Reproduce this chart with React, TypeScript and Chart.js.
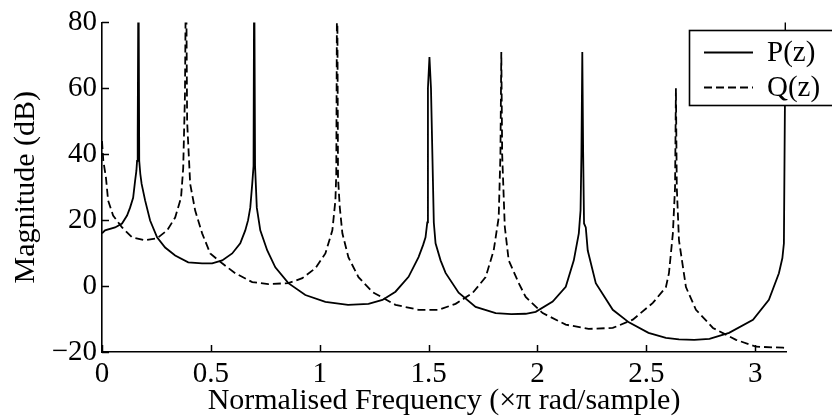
import React, { useEffect, useRef } from "react";
import { Chart, registerables } from "chart.js";

Chart.register(...registerables);

const SERIES_NAMES = ["P(z)", "Q(z)"];
const X_TITLE = "Normalised Frequency (×π rad/sample)";
const Y_TITLE = "Magnitude (dB)";
const X_MIN = 0;
const X_MAX = 3.1416;
const Y_MIN = -20;
const Y_MAX = 80;
const X_TICKS = [0, 0.5, 1, 1.5, 2, 2.5, 3];
const Y_TICKS = [-20, 0, 20, 40, 60, 80];

const P_X = [
  0, 0.014, 0.06, 0.092, 0.115, 0.129, 0.143, 0.152, 0.158, 0.161, 0.164, 0.1675, 0.171, 0.176, 0.182, 0.198,
  0.221, 0.253, 0.29, 0.336, 0.396, 0.46, 0.506, 0.552, 0.598, 0.635, 0.658, 0.671, 0.681, 0.69, 0.696,
  0.699, 0.703, 0.711, 0.727, 0.759, 0.796, 0.856, 0.934, 1.026, 1.13, 1.224, 1.288, 1.348, 1.408,
  1.454, 1.475, 1.486, 1.494, 1.497, 1.504, 1.511, 1.524, 1.532, 1.555, 1.578, 1.638, 1.716, 1.808, 1.88,
  1.946, 1.992, 2.07, 2.13, 2.167, 2.19, 2.198, 2.202, 2.206, 2.21, 2.214, 2.222, 2.231, 2.268,
  2.346, 2.42, 2.51, 2.59, 2.65, 2.72, 2.79, 2.88, 2.99, 3.063, 3.109, 3.125, 3.132, 3.1416,
];
const P_Y = [
  16, 16.9, 17.8, 19, 21.4, 23.8, 26.8, 31.9, 35, 38, 46, 100, 38, 34, 31, 26,
  19.9, 14.8, 11.7, 9.3, 7.2, 6.9, 6.9, 7.8, 9.9, 13, 16.9, 20, 23.8, 31, 36.4,
  100, 36.4, 23.8, 16.9, 10.8, 5.7, 0.9, -2.7, -4.8, -5.7, -5.4, -4.2, -1.7, 2.8,
  8.8, 12.5, 14.8, 19.3, 60, 69.5, 60, 19.3, 13, 7.8, 4, -2, -6.3, -8.2, -8.5,
  -8.4, -7.8, -4.7, -0.2, 7.8, 16, 23, 40, 71, 40, 19, 17.8, 10.8, 0.9,
  -7.2, -11, -14.2, -15.7, -16.2, -16.3, -16, -14.2, -10.2, -4.2, 3.9, 8.5, 13, 100,
];

const Q_X = [
  0, 0.006, 0.018, 0.028, 0.051, 0.092, 0.138, 0.198, 0.253, 0.299, 0.336, 0.363, 0.373, 0.381,
  0.386, 0.391, 0.405, 0.428, 0.46, 0.497, 0.552, 0.612, 0.69, 0.764, 0.856, 0.92, 0.98, 1.026,
  1.058, 1.072, 1.076, 1.08, 1.084, 1.092, 1.104, 1.132, 1.178, 1.242, 1.348, 1.454, 1.546, 1.624,
  1.702, 1.762, 1.799, 1.822, 1.83, 1.834, 1.838, 1.85, 1.868, 1.914, 1.946, 2.024, 2.13, 2.235,
  2.346, 2.438, 2.53, 2.59, 2.604, 2.622, 2.632, 2.636, 2.64, 2.65, 2.682, 2.728, 2.806, 2.912,
  3.004, 3.128, 3.1416,
];
const Q_Y = [
  44, 38, 33, 26, 21.4, 17.8, 14.8, 13.9, 14.5, 16.9, 20.8, 26.8, 35.8, 58,
  100, 50, 31, 22.9, 16, 9.9, 6.9, 3.9, 1.2, 0.6, 0.9, 2.4, 5.4, 9.9,
  16.9, 26, 34, 100, 33, 24, 16, 8.7, 2.7, -1.8, -5.7, -7.2, -7.2, -5.4,
  -2.1, 2.7, 10.8, 20.8, 40, 71, 40, 18, 7.8, 0.9, -3.3, -8.2, -11.7, -13,
  -12.7, -10.2, -5.1, -0.3, 3.9, 16, 30, 60, 30, 13.9, -0.3, -7.2, -12.7, -16.3,
  -18.4, -18.7, -18.8,
];

const FONT_FAMILY = '"Liberation Serif", "Times New Roman", serif';
const DASH = [8, 4];

const insideTicks = {
  id: "insideTicks",
  afterDatasetsDraw(chart: any) {
    const { ctx, scales, chartArea } = chart;
    const len = 7;
    ctx.save();
    ctx.strokeStyle = "#000";
    ctx.lineWidth = 1.5;
    ctx.beginPath();
    for (const v of X_TICKS) {
      const px = Math.round(scales.x.getPixelForValue(v)) + 0.5;
      ctx.moveTo(px, chartArea.bottom);
      ctx.lineTo(px, chartArea.bottom - len);
    }
    for (const v of Y_TICKS) {
      const py = Math.round(scales.y.getPixelForValue(v)) + 0.5;
      ctx.moveTo(chartArea.left, py);
      ctx.lineTo(chartArea.left + len, py);
    }
    ctx.stroke();
    ctx.restore();
  },
};

const legendBox = {
  id: "legendBox",
  afterDraw(chart: any) {
    const { ctx } = chart;
    ctx.save();
    ctx.fillStyle = "#fff";
    ctx.fillRect(689, 30, 170, 75);
    ctx.strokeStyle = "#000";
    ctx.lineWidth = 1.6;
    ctx.strokeRect(689.5, 30.5, 170, 75);
    const rows = [52, 87];
    chart.data.datasets.forEach((ds: any, i: number) => {
      ctx.beginPath();
      ctx.setLineDash(ds.borderDash || []);
      ctx.lineWidth = 1.8;
      ctx.moveTo(704, rows[i] + 0.5);
      ctx.lineTo(753, rows[i] + 0.5);
      ctx.stroke();
      ctx.setLineDash([]);
      ctx.fillStyle = "#000";
      ctx.font = `29px ${FONT_FAMILY}`;
      ctx.textBaseline = "middle";
      ctx.textAlign = "left";
      ctx.fillText(ds.label, 767, rows[i] + 1);
    });
    ctx.restore();
  },
};

export default function App() {
  const ref = useRef<HTMLCanvasElement>(null);
  useEffect(() => {
    if (!ref.current) return;
    const pData = P_X.map((x, i) => ({ x, y: P_Y[i] }));
    const qData = Q_X.map((x, i) => ({ x, y: Q_Y[i] }));
    const tickFont = { family: FONT_FAMILY, size: 29 };
    const titleFont = { family: FONT_FAMILY, size: 30, lineHeight: 1 };
    const chart = new Chart(ref.current, {
      type: "line",
      data: {
        datasets: [
          {
            label: SERIES_NAMES[0],
            data: pData,
            borderColor: "#000",
            borderWidth: 1.8,
            pointRadius: 0,
            tension: 0,
            fill: false,
          },
          {
            label: SERIES_NAMES[1],
            data: qData,
            borderColor: "#000",
            borderWidth: 1.8,
            borderDash: DASH,
            pointRadius: 0,
            tension: 0,
            fill: false,
          },
        ],
      },
      options: {
        responsive: false,
        animation: false,
        devicePixelRatio: 1,
        layout: { padding: { top: 20, right: 46, left: 0, bottom: 0 } },
        plugins: { legend: { display: false }, tooltip: { enabled: false } },
        scales: {
          x: {
            type: "linear",
            min: X_MIN,
            max: X_MAX,
            afterBuildTicks: (s: any) => {
              s.ticks = X_TICKS.map((v) => ({ value: v }));
            },
            afterFit: (s: any) => {
              s.height = 66;
            },
            grid: { display: false, drawTicks: false },
            border: { display: true, color: "#000", width: 1.6 },
            ticks: {
              color: "#000",
              font: tickFont,
              padding: 5,
              maxRotation: 0,
              callback: (v: any) => String(v),
            },
            title: {
              display: true,
              text: X_TITLE,
              color: "#000",
              font: titleFont,
              padding: { top: 0, bottom: 2 },
            },
          },
          y: {
            type: "linear",
            min: Y_MIN,
            max: Y_MAX,
            afterBuildTicks: (s: any) => {
              s.ticks = Y_TICKS.map((v) => ({ value: v }));
            },
            afterFit: (s: any) => {
              s.width = 102;
            },
            grid: { display: false, drawTicks: false },
            border: { display: true, color: "#000", width: 1.6 },
            ticks: {
              color: "#000",
              font: tickFont,
              padding: 5,
              callback: (v: any) => String(v).replace("-", "\u2212"),
            },
            title: {
              display: true,
              text: Y_TITLE,
              color: "#000",
              font: titleFont,
              padding: { top: 11, bottom: 0 },
            },
          },
        },
      },
      plugins: [insideTicks, legendBox],
    });
    return () => chart.destroy();
  }, []);
  return (
    <div style={{ position: "absolute", left: 0, top: 0, width: 832, height: 418, background: "#fff" }}>
      <canvas ref={ref} width={832} height={418} style={{ display: "block" }} />
    </div>
  );
}
